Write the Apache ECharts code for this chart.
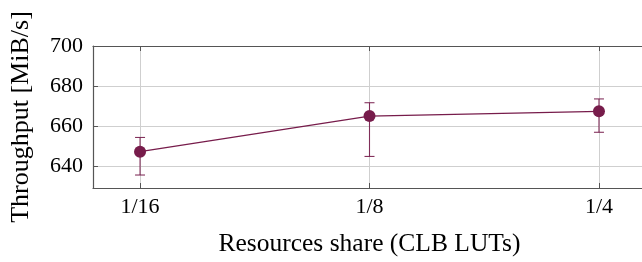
<!DOCTYPE html>
<html>
<head>
<meta charset="utf-8">
<script src="https://cdn.jsdelivr.net/npm/echarts@6/dist/echarts.min.js"></script>
<style>
  html, body { margin: 0; padding: 0; background: #fff; overflow: hidden; }
  /* plot box runs a few pixels past the right edge, as in the original figure */
  #chart { width: 646px; height: 262px; }
</style>
</head>
<body>
<div id="chart"></div>
<script>
// resource share categories (placed at x = 0, 1, 2)
const shares = ['1/16', '1/8', '1/4'];
const throughput = [647.1, 664.9, 667.3];
const errLow = [635.4, 644.7, 656.8];
const errHigh = [654.2, 671.6, 673.5];
const yTicks = [640, 660, 680, 700];

const lineColor = '#771c4b';
const serif = '"Liberation Serif", "DejaVu Serif", serif';

const chart = echarts.init(document.getElementById('chart'));

const pointData = throughput.map((v, i) => [i, v]);
const errData = shares.map((s, i) => [i, errLow[i], errHigh[i]]);

const option = {
  animation: false,
  grid: {
    left: 93,
    right: 0,
    top: 46,
    bottom: 71,
    containLabel: false
  },
  xAxis: [
    {
      type: 'value',
      min: -0.205,
      max: 2.205,
      splitNumber: 2,
      name: 'Resources share (CLB LUTs)',
      nameLocation: 'middle',
      nameGap: 43,
      nameTextStyle: { fontFamily: serif, fontSize: 25.5, color: '#000' },
      axisLine: { show: true, onZero: false, lineStyle: { color: '#555', width: 1.2 } },
      axisTick: { show: true, inside: true, length: 5, lineStyle: { color: '#555' } },
      axisLabel: {
        fontFamily: serif,
        fontSize: 22,
        color: '#000',
        margin: 8,
        showMinLabel: false,
        showMaxLabel: false,
        formatter: function (v) {
          return Number.isInteger(v) && shares[v] ? shares[v] : '';
        }
      },
      splitLine: { show: true, lineStyle: { color: '#cfcfcf', width: 1 } }
    },
    {
      type: 'value',
      position: 'top',
      min: -0.205,
      max: 2.205,
      splitNumber: 2,
      axisLine: { show: true, onZero: false, lineStyle: { color: '#555', width: 1.2 } },
      axisTick: { show: true, inside: true, length: 5, lineStyle: { color: '#555' } },
      axisLabel: { show: false },
      splitLine: { show: false }
    }
  ],
  yAxis: {
    type: 'value',
    min: 628.9,
    max: 700,
    splitNumber: 3,
    name: 'Throughput [MiB/s]',
    nameLocation: 'middle',
    nameGap: 59,
    nameRotate: 90,
    nameTextStyle: { fontFamily: serif, fontSize: 26, color: '#000' },
    axisLine: { show: true, onZero: false, lineStyle: { color: '#555', width: 1.2 } },
    axisTick: { show: true, inside: true, length: 5, lineStyle: { color: '#555' } },
    axisLabel: {
      fontFamily: serif,
      fontSize: 22,
      color: '#000',
      margin: 10,
      showMinLabel: false,
      formatter: function (v) {
        return yTicks.indexOf(v) >= 0 ? String(v) : '';
      }
    },
    splitLine: { show: true, lineStyle: { color: '#cfcfcf', width: 1 } }
  },
  series: [
    {
      name: 'error',
      type: 'custom',
      z: 2,
      data: errData,
      renderItem: function (params, api) {
        const x = api.value(0);
        const lo = api.coord([x, api.value(1)]);
        const hi = api.coord([x, api.value(2)]);
        const cap = 5;
        const style = { stroke: lineColor, lineWidth: 1.1, opacity: 0.9 };
        return {
          type: 'group',
          children: [
            { type: 'line', shape: { x1: lo[0], y1: lo[1], x2: hi[0], y2: hi[1] }, style: style },
            { type: 'line', shape: { x1: hi[0] - cap, y1: hi[1], x2: hi[0] + cap, y2: hi[1] }, style: style },
            { type: 'line', shape: { x1: lo[0] - cap, y1: lo[1], x2: lo[0] + cap, y2: lo[1] }, style: style }
          ]
        };
      }
    },
    {
      name: 'throughput',
      type: 'line',
      z: 3,
      data: pointData,
      symbol: 'circle',
      symbolSize: 12,
      lineStyle: { color: lineColor, width: 1.2 },
      itemStyle: { color: lineColor, borderWidth: 0 }
    }
  ]
};

chart.setOption(option);
</script>
</body>
</html>
